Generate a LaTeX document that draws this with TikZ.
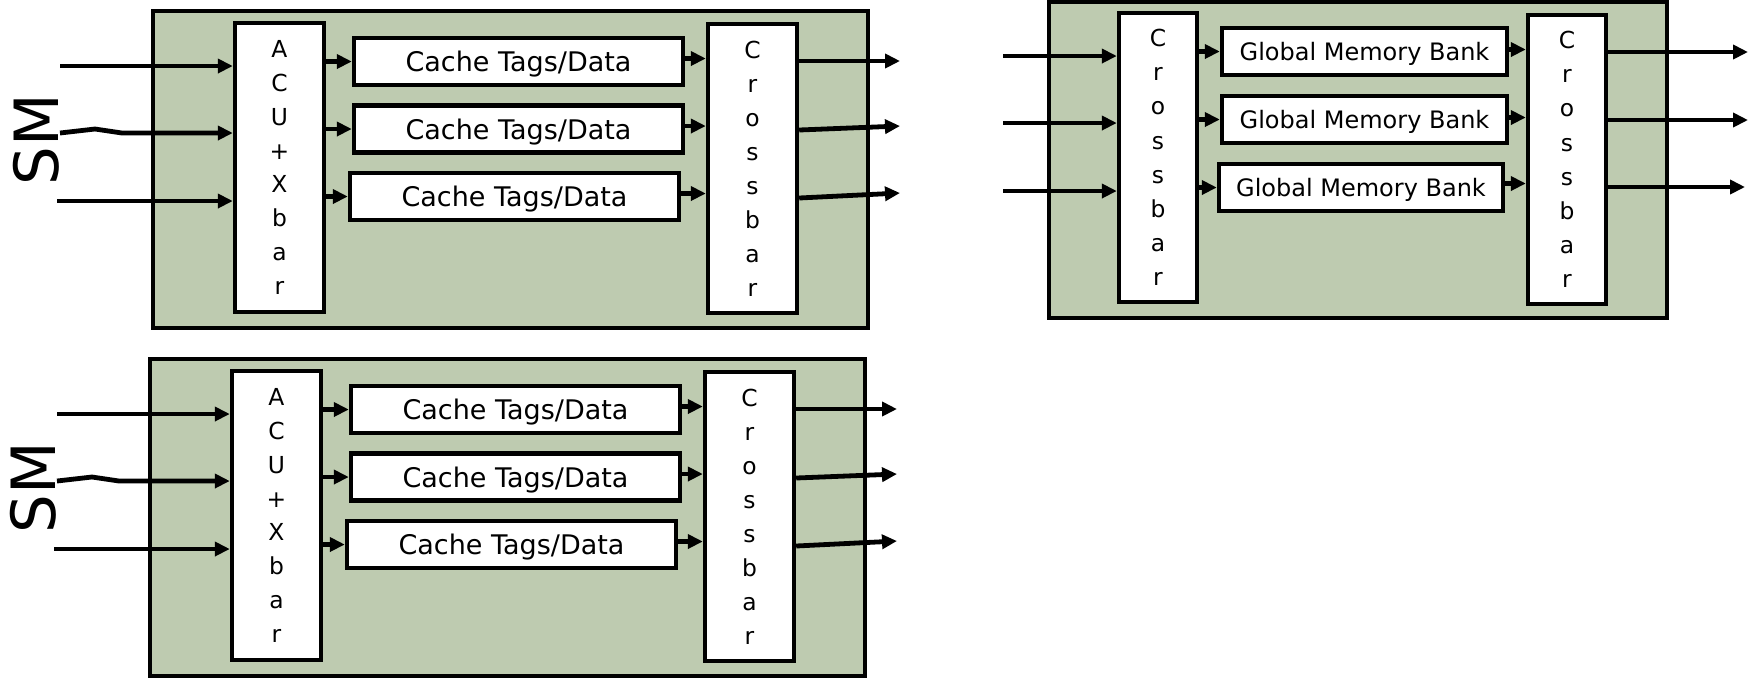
\documentclass[tikz,border=0pt]{standalone}
\usepackage{fontspec}
\setmainfont{DejaVu Sans}
\usetikzlibrary{arrows.meta}
\definecolor{panelgreen}{HTML}{BECBB0}
\tikzset{
  outer/.style={draw, fill=panelgreen, line width=2.4pt, inner sep=0pt},
  wbox/.style={draw, fill=white, line width=2.2pt, inner sep=0pt, align=center},
  cbox/.style={wbox, minimum width=164.5pt, minimum height=23.5pt, text depth=0pt, font=\fontsize{13.5}{16}\selectfont},
  gbox/.style={wbox, minimum width=142.5pt, minimum height=23.5pt, text depth=0pt, font=\fontsize{12}{14}\selectfont},
  acubox/.style={wbox, minimum width=44.5pt, minimum height=144.5pt, font=\fontsize{11.7}{16.9}\selectfont},
  xbbox/.style={wbox, minimum width=44.5pt, minimum height=144.5pt, font=\fontsize{11.7}{17}\selectfont},
  gxbbox/.style={wbox, minimum width=39pt, minimum height=144.5pt, font=\fontsize{11.7}{17.1}\selectfont},
  smlabel/.style={rotate=90, inner sep=0pt, font=\fontsize{30.5}{36}\selectfont},
  arr/.style={line width=2.4pt, -{Triangle[length=7.5pt,width=7pt]}},
}
\newcommand\SMblock[1]{%
  \node[outer, minimum width=357.5pt, minimum height=158.5pt] (#1blk) at (510.5,169.5) {};
  \node[acubox] (#1acu) at (279.5,167.5) {A\\C\\U\\+\\X\\b\\a\\r};
  \node[cbox] (#1c1) at (518.5,61.5) {Cache Tags/Data};
  \node[cbox] (#1c2) at (518.5,129) {Cache Tags/Data};
  \node[cbox] (#1c3) at (514.5,196.5) {Cache Tags/Data};
  \node[xbbox] (#1xb) at (752.5,168.5) {C\\r\\o\\s\\s\\b\\a\\r};
  \node[smlabel] (#1sm) at (36,139.5) {SM};
  \coordinate (#1i1) at (60,66);
  \coordinate (#1i2) at (60,133);
  \coordinate (#1i3) at (57,201);
  \coordinate (#1o1) at (900,61);
  \coordinate (#1o2) at (900,126);
  \coordinate (#1o3) at (900,193);
  \coordinate (#1s2) at (800,130);
  \coordinate (#1s3) at (800,198);
  \draw[arr] (#1i1) -- (#1acu.west |- #1i1);
  \draw[arr] (#1i2) -- ++(35,-4) -- ++(27,4) -- (#1acu.west |- #1i2);
  \draw[arr] (#1i3) -- (#1acu.west |- #1i3);
  \draw[arr] (#1acu.east |- #1c1.west) -- (#1c1.west);
  \draw[arr] (#1acu.east |- #1c2.west) -- (#1c2.west);
  \draw[arr] (#1acu.east |- #1c3.west) -- (#1c3.west);
  \draw[arr] ([yshift=1.5pt]#1c1.east) -- ([yshift=1.5pt]#1c1.east -| #1xb.west);
  \draw[arr] ([yshift=1.5pt]#1c2.east) -- ([yshift=1.5pt]#1c2.east -| #1xb.west);
  \draw[arr] ([yshift=1.5pt]#1c3.east) -- ([yshift=1.5pt]#1c3.east -| #1xb.west);
  \draw[arr] (#1xb.east |- #1o1) -- (#1o1);
  \draw[arr] (#1xb.east |- #1s2) -- (#1o2);
  \draw[arr] (#1xb.east |- #1s3) -- (#1o3);
}
\begin{document}
\begin{tikzpicture}[x=0.5pt, y=-0.5pt]
  \useasboundingbox (0,0) rectangle (1751,677);
  % top SM block
  \SMblock{a}
  % bottom SM block
  \begin{scope}[shift={(-3,348)}]
    \SMblock{b}
  \end{scope}
  % global memory block
  \node[outer, minimum width=309pt, minimum height=158pt] (gblk) at (1358,160) {};
  \node[gxbbox] (gl) at (1158,157.5) {C\\r\\o\\s\\s\\b\\a\\r};
  \node[gxbbox] (gr) at (1567,159.5) {C\\r\\o\\s\\s\\b\\a\\r};
  \node[gbox] (g1) at (1364.5,51.5) {Global Memory Bank};
  \node[gbox] (g2) at (1364.5,119.5) {Global Memory Bank};
  \node[gbox, minimum width=142pt] (g3) at (1361,187.5) {Global Memory Bank};
  \coordinate (gi1) at (1003,56);
  \coordinate (gi2) at (1003,123);
  \coordinate (gi3) at (1003,191);
  \coordinate (go1) at (1748,52);
  \coordinate (go2) at (1748,120);
  \coordinate (go3) at (1745,187);
  \draw[arr] (gi1) -- (gl.west |- gi1);
  \draw[arr] (gi2) -- (gl.west |- gi2);
  \draw[arr] (gi3) -- (gl.west |- gi3);
  \draw[arr] (gl.east |- g1.west) -- (g1.west);
  \draw[arr] (gl.east |- g2.west) -- (g2.west);
  \draw[arr] (gl.east |- g3.west) -- (g3.west);
  \draw[arr] ([yshift=1pt]g1.east) -- ([yshift=1pt]g1.east -| gr.west);
  \draw[arr] ([yshift=1pt]g2.east) -- ([yshift=1pt]g2.east -| gr.west);
  \draw[arr] ([yshift=2pt]g3.east) -- ([yshift=2pt]g3.east -| gr.west);
  \draw[arr] (gr.east |- go1) -- (go1);
  \draw[arr] (gr.east |- go2) -- (go2);
  \draw[arr] (gr.east |- go3) -- (go3);
\end{tikzpicture}
\end{document}
